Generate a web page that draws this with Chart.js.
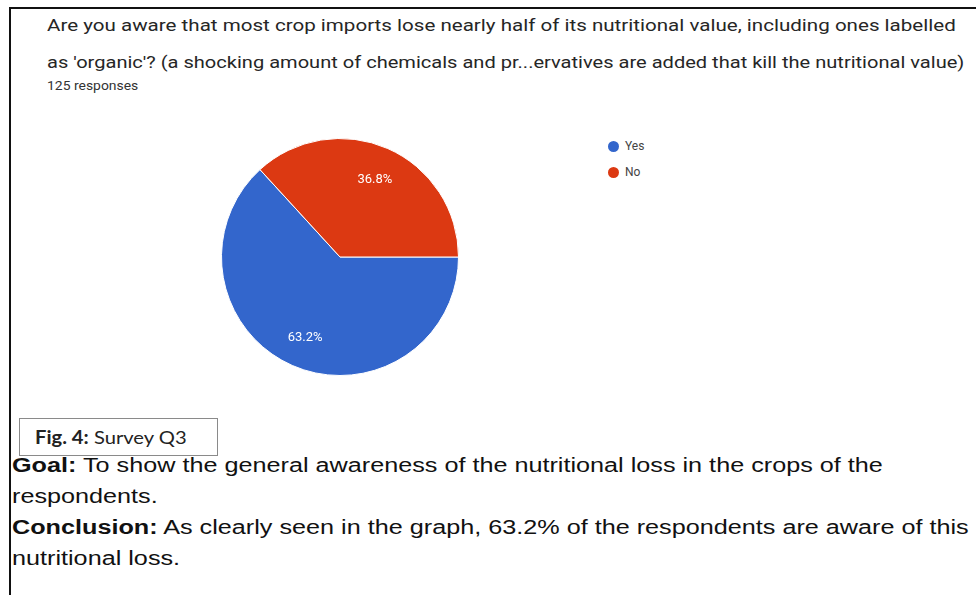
<!DOCTYPE html>
<html>
<head>
<meta charset="utf-8">
<script src="https://cdn.jsdelivr.net/npm/chart.js@4.4.1/dist/chart.umd.min.js"></script>
<style>
  html, body { margin: 0; padding: 0; background: #fff; }
  body { width: 976px; height: 595px; position: relative; overflow: hidden; }
  .frame {
    position: absolute; left: 9px; top: 7px; width: 1000px; height: 620px;
    border-top: 2px solid #111; border-left: 2px solid #111;
  }
  /* the text blocks are a little wider than the fonts draw them */
  .qline {
    position: absolute; left: 47px;
    font-family: Roboto, Arial, sans-serif; font-size: 17px; line-height: 37px;
    color: #262626; white-space: nowrap; transform-origin: 0 0;
  }
  .count {
    position: absolute; left: 47px; top: 79px;
    font-family: Roboto, Arial, sans-serif; font-size: 12px; color: #333;
    transform: scaleX(1.16); transform-origin: 0 0;
  }
  #pieWrap { position: absolute; left: 210px; top: 127px; width: 260px; height: 260px; }
  .legend {
    position: absolute; left: 608px; top: 139px;
    font-family: Roboto, Arial, sans-serif; font-size: 12px; color: #444;
  }
  .legend div { height: 26px; display: flex; align-items: flex-start; }
  .legend span.dot { width: 11px; height: 11px; border-radius: 50%; margin-right: 6px; margin-top: 2px; }
  .fig {
    position: absolute; left: 19px; top: 418px; width: 199px; height: 38px;
    border: 1px solid #8a8a8a; box-sizing: border-box;
  }
  .fig span {
    position: absolute; left: 15px; top: 0;
    font-family: Lato, "Open Sans", sans-serif; font-size: 18px; color: #222;
    line-height: 36px; white-space: nowrap;
    transform: scaleX(1.12); transform-origin: 0 0;
  }
  .notes {
    position: absolute; left: 12px; top: 450px;
    font-family: "Liberation Sans", Arial, sans-serif; font-size: 20px; line-height: 31px;
    color: #111; white-space: nowrap;
    transform: scaleX(1.26); transform-origin: 0 0;
  }
</style>
</head>
<body>
<div class="frame"></div>
<div class="qline" style="top:7px; transform:scaleX(1.21)">Are you aware that most crop imports lose nearly half of its nutritional value, including ones labelled</div>
<div class="qline" style="top:44px; transform:scaleX(1.18)">as 'organic'? (a shocking amount of chemicals and pr...ervatives are added that kill the nutritional value)</div>
<div class="count">125 responses</div>
<div id="pieWrap"><canvas id="surveyPie"></canvas></div>
<div class="legend" id="legend"></div>
<div class="fig"><span><b>Fig. 4:</b> Survey Q3</span></div>
<div class="notes">
  <b>Goal:</b> To show the general awareness of the nutritional loss in the crops of the<br>
  respondents.<br>
  <b>Conclusion:</b> As clearly seen in the graph, 63.2% of the respondents are aware of this<br>
  nutritional loss.
</div>

<script>
// Survey Q3 answers (125 responses)
const answers = ["Yes", "No"];
const shares = [63.2, 36.8];
const sliceColors = ["#3366cc", "#dc3912"];

// legend list on the right of the pie
const legendBox = document.getElementById("legend");
answers.forEach((name, i) => {
  const row = document.createElement("div");
  row.innerHTML = `<span class="dot" style="background:${sliceColors[i]}"></span>${name}`;
  legendBox.appendChild(row);
});

// percentage text inside each slice, placed along the slice's middle angle
const sliceLabels = {
  id: "sliceLabels",
  afterDatasetsDraw(chart) {
    const ctx = chart.ctx;
    const meta = chart.getDatasetMeta(0);
    ctx.save();
    ctx.font = "13px Roboto, Arial, sans-serif";
    ctx.fillStyle = "#ffffff";
    ctx.textAlign = "center";
    ctx.textBaseline = "middle";
    meta.data.forEach((arc, i) => {
      const mid = (arc.startAngle + arc.endAngle) / 2;
      const r = arc.outerRadius * 0.73;
      ctx.fillText(shares[i].toFixed(1) + "%", arc.x + Math.cos(mid) * r, arc.y + Math.sin(mid) * r + 2);
    });
    ctx.restore();
  }
};

new Chart(document.getElementById("surveyPie"), {
  type: "pie",
  data: {
    labels: answers,
    datasets: [{
      data: shares,
      backgroundColor: sliceColors,
      borderColor: "#ffffff",
      borderWidth: 1
    }]
  },
  options: {
    responsive: true,
    maintainAspectRatio: false,
    animation: false,
    rotation: 90,
    layout: { padding: 11 },
    plugins: {
      legend: { display: false },
      tooltip: { enabled: false }
    }
  },
  plugins: [sliceLabels]
});
</script>
</body>
</html>
